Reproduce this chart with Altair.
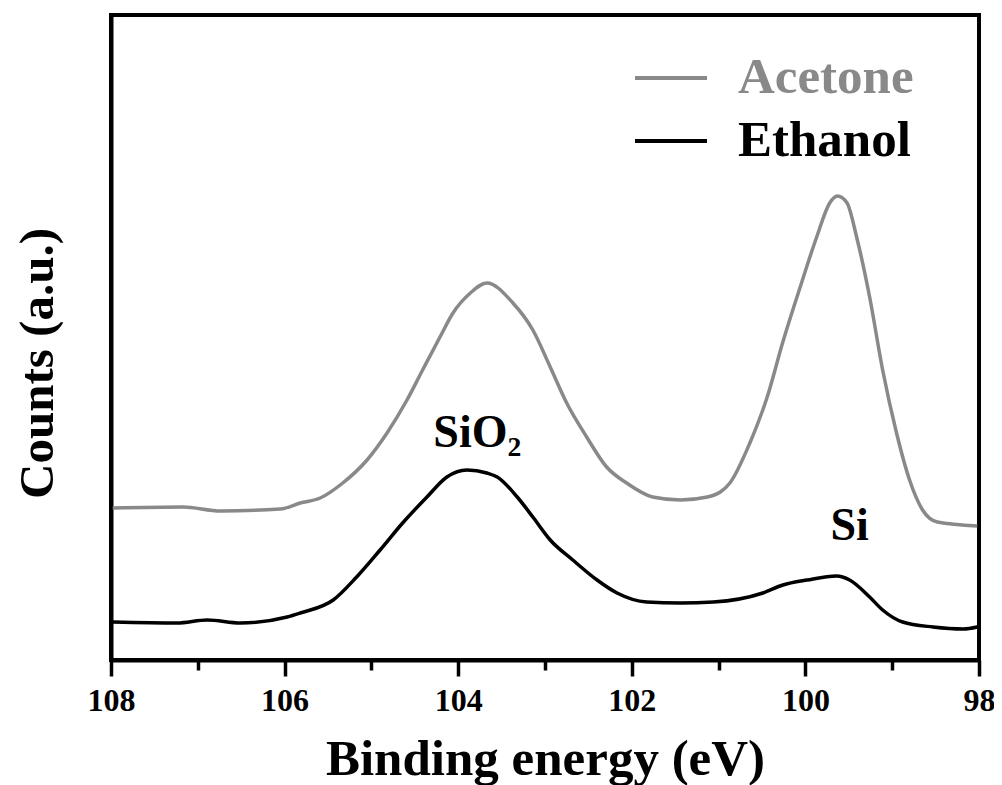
import altair as alt
import pandas as pd

# Binding energy (eV) and counts (a.u.)
acetone_x = [107.98, 107.17, 106.74, 106.05, 105.82, 105.59, 105.33, 105.05, 104.82, 104.59,
             104.41, 104.21, 104.06, 103.86, 103.67, 103.37, 103.14, 102.94, 102.75, 102.52,
             102.29, 102.06, 101.76, 101.44, 101.13, 100.98, 100.87, 100.64, 100.44, 100.26,
             100.06, 99.87, 99.72, 99.63, 99.52, 99.41, 99.26, 99.11, 98.95, 98.80,
             98.65, 98.48, 98.02]
acetone_y = [152, 153, 149, 151, 157, 162, 177, 200, 227, 260,
             290, 323, 347, 367, 377, 357, 330, 293, 257, 223,
             193, 177, 163, 160, 163, 168, 177, 217, 263, 318,
             373, 423, 457, 464, 457, 423, 363, 290, 227, 180,
             150, 138, 134]

ethanol_x = [107.98, 107.24, 106.89, 106.51, 105.97, 105.82, 105.44, 105.17, 104.90, 104.64,
             104.36, 104.13, 103.90, 103.67, 103.55, 103.32, 103.14, 102.94, 102.68, 102.40,
             102.17, 101.83, 101.44, 101.06, 100.49, 100.26, 99.98, 99.64, 99.49, 99.26,
             99.11, 98.88, 98.53, 98.18, 98.02]
ethanol_y = [38, 37, 40, 37, 43, 47, 60, 83, 110, 137,
             163, 183, 190, 187, 183, 163, 143, 120, 100, 80,
             67, 58, 57, 58, 67, 75, 80, 84, 80, 63,
             50, 38, 33, 31, 33]

series_names = ["Acetone", "Ethanol"]
series_colors = ["#898989", "#000000"]

label_text = ["SiO₂", "Si"]
label_x = [103.78, 99.49]
label_y = [213, 120]

xticks = [108, 107, 106, 105, 104, 103, 102, 101, 100, 99, 98]

df = pd.concat([
    pd.DataFrame({"energy": acetone_x, "counts": acetone_y, "sample": "Acetone"}),
    pd.DataFrame({"energy": ethanol_x, "counts": ethanol_y, "sample": "Ethanol"}),
])
labels_df = pd.DataFrame({"energy": label_x, "counts": label_y, "text": label_text})

FONT = "Liberation Serif"

xscale = alt.Scale(domain=[108, 98], nice=False, zero=False)
yscale = alt.Scale(domain=[0, 645], nice=False, zero=False)

lines = alt.Chart(df).mark_line(strokeWidth=3.5, interpolate="monotone").encode(
    x=alt.X("energy:Q", scale=xscale,
            axis=alt.Axis(title="Binding energy (eV)", values=xticks, format="d",
                          labelExpr="datum.value % 2 == 0 ? datum.label : ''",
                          tickSize={"condition": {"test": "datum.value % 2 != 0", "value": 10}, "value": 16},
                          tickWidth=3.5, tickColor="black", domainColor="black", domainWidth=4,
                          labelFont=FONT, labelFontWeight="bold", labelFontSize=32, labelColor="black",
                          labelBaseline="alphabetic", labelPadding=34, labelFlush=False,
                          titleFont=FONT, titleFontWeight="bold", titleFontSize=51, titleColor="black",
                          titleBaseline="alphabetic", titleY=114, grid=False)),
    y=alt.Y("counts:Q", scale=yscale,
            axis=alt.Axis(title="Counts (a.u.)", labels=False, ticks=False, grid=False,
                          domainColor="black", domainWidth=4,
                          titleFont=FONT, titleFontWeight="bold", titleFontSize=49, titleColor="black",
                          titleBaseline="alphabetic", titleX=-59, titleY=348, titleAngle=270,
                          titleAlign="center")),
    color=alt.Color("sample:N", scale=alt.Scale(domain=series_names, range=series_colors),
                    legend=alt.Legend(title=None, orient="none", legendX=522, legendY=25,
                                      symbolType="stroke", symbolSize=5184, symbolStrokeWidth=4,
                                      labelFont=FONT, labelFontWeight="bold", labelFontSize=51,
                                      labelColor={"expr": "datum.label == 'Acetone' ? '#898989' : 'black'"},
                                      labelOffset=29, labelLimit=400, rowPadding=-29, padding=0)),
)

texts = alt.Chart(labels_df).mark_text(font=FONT, fontWeight="bold", fontSize=46,
                                       baseline="alphabetic", align="center", color="black").encode(
    x=alt.X("energy:Q", scale=xscale),
    y=alt.Y("counts:Q", scale=yscale),
    text="text:N",
)

chart = alt.layer(lines, texts).properties(
    width=868, height=645,
    padding={"left": 103, "top": 7, "right": 15, "bottom": 125},
    autosize=alt.AutoSizeParams(type="none"),
    background="white",
).configure_view(stroke="black", strokeWidth=4)

chart.save("out.html", embed_options={"renderer": "svg", "actions": False})
